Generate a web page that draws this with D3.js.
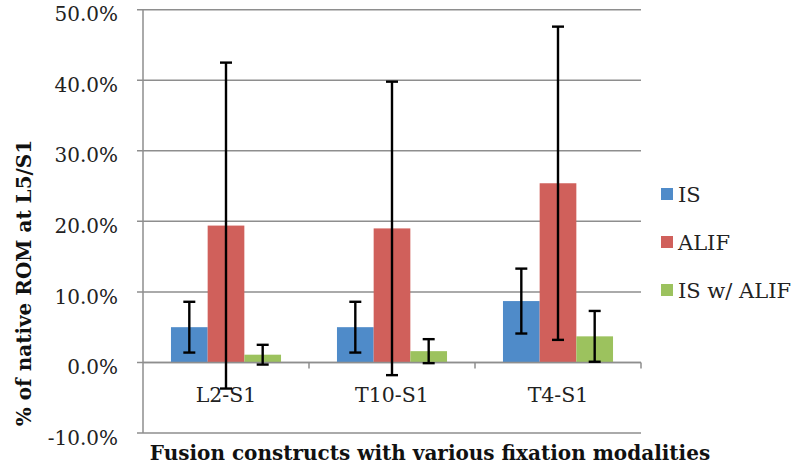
<!DOCTYPE html>
<html><head><meta charset="utf-8">
<script src="https://cdn.jsdelivr.net/npm/d3@7"></script>
<style>body{margin:0;background:#fff}svg{display:block}</style>
</head><body>
<svg id="c" width="792" height="466"></svg>
<script>
const categories = ["L2-S1", "T10-S1", "T4-S1"];
const seriesNames = ["IS", "ALIF", "IS w/ ALIF"];
const isValues = [5.0, 5.0, 8.7];
const isErrors = [3.6, 3.6, 4.6];
const alifValues = [19.4, 19.0, 25.4];
const alifErrors = [23.1, 20.8, 22.2];
const isAlifValues = [1.1, 1.6, 3.7];
const isAlifErrors = [1.4, 1.7, 3.6];
const yTicks = [-10, 0, 10, 20, 30, 40, 50];
const colors = ["#4f8bc9", "#d0605b", "#9cc25e"];
const yTitle = "% of native ROM at L5/S1";
const xTitle = "Fusion constructs with various fixation modalities";

(function () {
const values = [isValues, alifValues, isAlifValues];
const errors = [isErrors, alifErrors, isAlifErrors];

const svg = d3.select("#c");
const pL = 143, pR = 641, pT = 9.7, pB = 433;
const font = "'DejaVu Serif', serif";

const y = d3.scaleLinear().domain([-10, 50]).range([pB, pT]);
const x = d3.scaleBand().domain(categories).range([pL, pR]).paddingInner(0.337).paddingOuter(0.1685);
const xs = d3.scaleBand().domain(seriesNames).range([0, x.bandwidth()]).padding(0);

svg.append("g").selectAll("line").data(yTicks).join("line")
  .attr("x1", pL - 6).attr("x2", pR)
  .attr("y1", d => y(d)).attr("y2", d => y(d))
  .attr("stroke", "#8e8e8e").attr("stroke-width", 1.5);

svg.append("line").attr("x1", pL).attr("x2", pL).attr("y1", pT).attr("y2", pB)
  .attr("stroke", "#8e8e8e").attr("stroke-width", 1.5);

svg.append("g").selectAll("text").data(yTicks).join("text")
  .attr("x", 118).attr("y", d => y(d)).attr("dy", "0.58em")
  .attr("text-anchor", "end").attr("font-family", font).attr("font-size", 20)
  .attr("fill", "#222").text(d => d.toFixed(1) + "%");

const groups = svg.append("g").selectAll("g").data(seriesNames).join("g")
  .attr("fill", (d, i) => colors[i]);
groups.each(function(s, si) {
  d3.select(this).selectAll("rect").data(categories).join("rect")
    .attr("x", c => x(c) + xs(s))
    .attr("width", xs.bandwidth())
    .attr("y", (c, ci) => y(Math.max(0, values[si][ci])))
    .attr("height", (c, ci) => Math.abs(y(values[si][ci]) - y(0)));
});

svg.append("line").attr("x1", pL).attr("x2", pR).attr("y1", y(0)).attr("y2", y(0))
  .attr("stroke", "#8e8e8e").attr("stroke-width", 1.5);
const bounds = categories.map((c, i) => pL + x.step() * (i + 1));
svg.append("g").selectAll("line").data(bounds).join("line")
  .attr("x1", d => d).attr("x2", d => d).attr("y1", y(0)).attr("y2", y(0) + 6)
  .attr("stroke", "#8e8e8e").attr("stroke-width", 1.5);

svg.append("g").selectAll("text").data(categories).join("text")
  .attr("x", c => x(c) + x.bandwidth() / 2).attr("y", 402)
  .attr("text-anchor", "middle").attr("font-family", font).attr("font-size", 20.5)
  .attr("fill", "#222").text(c => c);

const eg = svg.append("g").attr("stroke", "#000").attr("stroke-width", 2.4);
seriesNames.forEach((s, si) => {
  categories.forEach((c, ci) => {
    const cx = x(c) + xs(s) + xs.bandwidth() / 2;
    const hi = y(values[si][ci] + errors[si][ci]);
    const lo = y(values[si][ci] - errors[si][ci]);
    eg.append("line").attr("x1", cx).attr("x2", cx).attr("y1", hi).attr("y2", lo);
    eg.append("line").attr("x1", cx - 6).attr("x2", cx + 6).attr("y1", hi).attr("y2", hi);
    eg.append("line").attr("x1", cx - 6).attr("x2", cx + 6).attr("y1", lo).attr("y2", lo);
  });
});

const lg = svg.append("g").selectAll("g").data(seriesNames).join("g")
  .attr("transform", (d, i) => `translate(661, ${194 + i * 48})`);
lg.append("rect").attr("x", 0).attr("y", -6).attr("width", 12).attr("height", 12)
  .attr("fill", (d, i) => colors[i]);
lg.append("text").attr("x", 17).attr("y", 0).attr("dy", "0.36em")
  .attr("font-family", font).attr("font-size", 21).attr("fill", "#222").text(d => d);

svg.append("text").attr("transform", "translate(31, 283) rotate(-90)")
  .attr("text-anchor", "middle").attr("font-family", font).attr("font-weight", "bold")
  .attr("font-size", 20).attr("fill", "#111").text(yTitle);
svg.append("text").attr("x", 430).attr("y", 460)
  .attr("text-anchor", "middle").attr("font-family", font).attr("font-weight", "bold")
  .attr("font-size", 20).attr("fill", "#111").text(xTitle);
})();
</script>
</body></html>
